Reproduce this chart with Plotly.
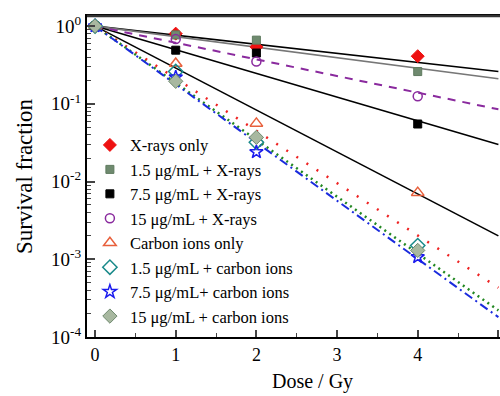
import plotly.graph_objects as go

# ---- data ----
dose = [0, 1, 2, 4]
xray_only = [1.0, 0.80, 0.54, 0.41]
x_1_5 = [1.0, 0.77, 0.66, 0.26]
x_7_5 = [1.0, 0.49, 0.45, 0.055]
x_15 = [1.0, 0.68, 0.35, 0.125]
carbon_only = [1.0, 0.33, 0.056, 0.0072]
c_1_5 = [1.0, 0.26, 0.032, 0.0015]
c_7_5 = [1.0, 0.22, 0.024, 0.00107]
c_15 = [1.0, 0.195, 0.037, 0.0013]

fit_dose = [0, 5.0]
fit_xray_only = [1.0, 0.26]
fit_x_1_5 = [1.0, 0.21]
fit_x_7_5 = [1.0, 0.030]
fit_x_15 = [1.0, 0.085]
fit_carbon_only = [1.0, 0.0020]
fit_c_1_5 = [1.0, 4.3e-4]
fit_c_7_5 = [1.0, 1.8e-4]
fit_c_15 = [1.0, 2.2e-4]

labels = ["X-rays only", "1.5 μg/mL + X-rays", "7.5 μg/mL + X-rays", "15 μg/mL + X-rays",
          "Carbon ions only", "1.5 μg/mL + carbon ions", "7.5 μg/mL+ carbon ions",
          "15 μg/mL + carbon ions"]

y_tickvals = [1e-4, 1e-3, 1e-2, 1e-1, 1]
y_ticktext = ["10<sup>-4</sup>", "10<sup>-3</sup>", "10<sup>-2</sup>", "10<sup>-1</sup>", "10<sup>0</sup>"]
y_minor_vals = [k * 10.0 ** d for d in range(-4, 0) for k in range(2, 10)]
x_tickvals = [0, 1, 2, 3, 4, 5]

FONT = "Liberation Serif, Times New Roman, serif"

fig = go.Figure()

# fit lines
lines = [
    (fit_xray_only, "black", "solid", 1.6),
    (fit_x_1_5, "#777777", "solid", 1.6),
    (fit_x_7_5, "black", "solid", 1.6),
    (fit_x_15, "#8a2a9e", "8px,7px", 2),
    (fit_carbon_only, "black", "solid", 1.6),
    (fit_c_1_5, "#ee2222", "2px,10px", 2.5),
    (fit_c_15, "#228822", "2px,4px", 2.5),
    (fit_c_7_5, "#1a2bdd", "9px,4px,2px,4px", 2),
]
for vals, col, dash, w in lines:
    fig.add_trace(go.Scatter(x=fit_dose, y=vals, mode="lines",
                             line=dict(color=col, dash=dash, width=w),
                             showlegend=False, hoverinfo="skip"))

markers = [
    (xray_only, dict(symbol="diamond", color="#ee1111", size=10,
                     line=dict(color="#ee1111", width=1))),
    (x_1_5, dict(symbol="square", color="#6f8a6f", size=8,
                 line=dict(color="#5f7a5f", width=1))),
    (x_7_5, dict(symbol="square", color="black", size=8,
                 line=dict(color="black", width=1))),
    (x_15, dict(symbol="circle-open", color="#8a2a9e", size=9,
                line=dict(color="#8a2a9e", width=1.5))),
    (carbon_only, dict(symbol="triangle-up-open", color="#e8603c", size=11,
                       line=dict(color="#e8603c", width=1.5))),
    (c_1_5, dict(symbol="diamond-open", color="#1a8a8a", size=11,
                 line=dict(color="#1a8a8a", width=1.5))),
    (c_7_5, dict(symbol="star-open", color="#1a1aee", size=10,
                 line=dict(color="#1a1aee", width=1.5))),
    (c_15, dict(symbol="diamond", color="#a8b8a0", size=11,
                line=dict(color="#6f8a6f", width=1))),
]
for (vals, mk), name in zip(markers, labels):
    fig.add_trace(go.Scatter(x=dose, y=vals, mode="markers", name=name, marker=mk))

fig.update_layout(
    width=500, height=396,
    margin=dict(l=87, r=0, t=16, b=59),
    paper_bgcolor="white", plot_bgcolor="white",
    font=dict(family=FONT, color="black"),
    showlegend=True,
    legend=dict(x=0.007, y=0.652, xanchor="left", yanchor="top",
                bgcolor="rgba(0,0,0,0)", font=dict(size=16.5, family=FONT),
                tracegroupgap=0, itemsizing="trace"),
    xaxis=dict(range=[-0.1, 5.02], tickvals=x_tickvals, ticks="inside", ticklen=7,
               tickwidth=1.5, showline=True, linecolor="black", linewidth=2,
               mirror=True, showgrid=False, zeroline=False,
               tickfont=dict(size=18, family=FONT),
               minor=dict(ticks="inside", ticklen=4, dtick=0.5, tickwidth=1.2, showgrid=False),
               automargin=False),
    yaxis=dict(type="log", range=[-4, 0.13], tickvals=y_tickvals, ticktext=y_ticktext,
               ticks="inside", ticklen=8, tickwidth=1.5, showline=True,
               linecolor="black", linewidth=2, mirror=False, showgrid=False,
               zeroline=False, tickfont=dict(size=19, family=FONT),
               minor=dict(ticks="inside", ticklen=4, tickwidth=1.2, showgrid=False,
                          tickvals=y_minor_vals),
               title=dict(text="Survival fraction", font=dict(size=23, family=FONT), standoff=12),
               automargin=False),
    shapes=[dict(type="line", xref="paper", yref="paper", x0=0, x1=1, y0=1, y1=1,
                 line=dict(color="#333333", width=2.5))],
    annotations=[dict(text="Dose / Gy", xref="paper", yref="paper",
                      x=(312 - 87) / 413, y=(337 - 382) / 321,
                      xanchor="center", yanchor="middle", showarrow=False,
                      font=dict(size=20, family=FONT))],
)

fig.write_html("out.html")
